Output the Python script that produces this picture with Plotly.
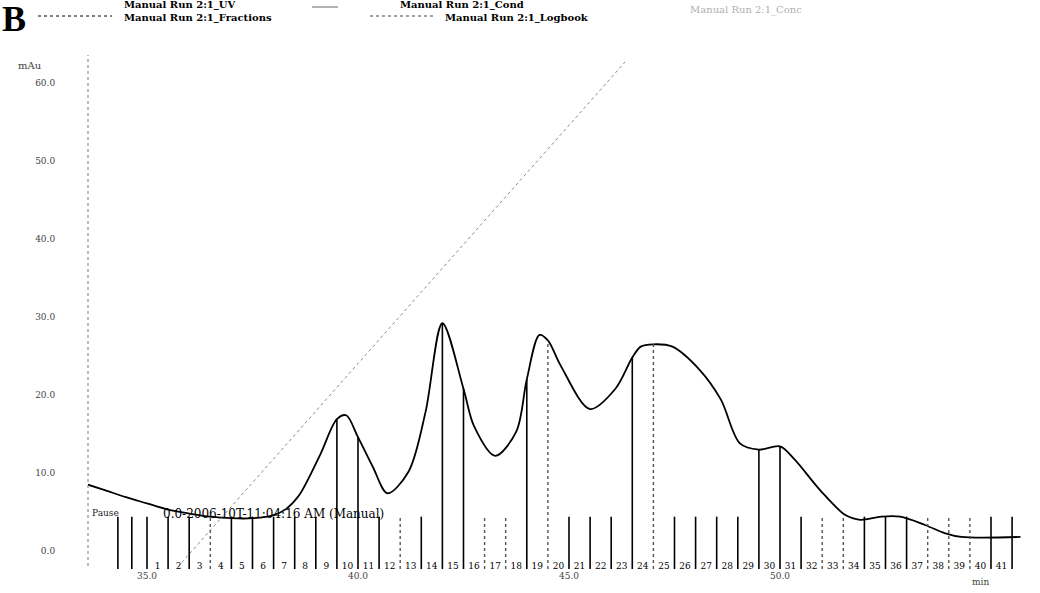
import numpy as np
import plotly.graph_objects as go

# ---------------- data ----------------
uv_time = [33.6, 34.0, 34.5, 35.0, 35.5, 36.0, 36.5, 37.0, 37.5, 38.0, 38.3, 38.6,
           39.1, 39.5, 39.72, 40.0, 40.35, 40.7, 41.2, 41.6, 42.0, 42.5, 42.75, 43.25,
           43.75, 44.0, 44.3, 44.5, 44.8, 45.5, 46.1, 46.5, 46.7, 47.0, 47.45, 48.1,
           48.6, 49.05, 49.5, 50.0, 50.35, 50.95, 51.55, 51.9, 52.4, 52.85, 53.45,
           53.9, 54.3, 55.7]
uv_mau = [8.5, 7.8, 6.9, 6.1, 5.3, 4.8, 4.4, 4.2, 4.2, 4.6, 5.4, 7.1,
          12.3, 16.9, 17.4, 14.6, 10.8, 7.4, 10.2, 17.8, 29.2, 20.8, 16.0, 12.2,
          15.3, 22.0, 27.7, 27.0, 23.8, 18.2, 20.8, 24.8, 26.2, 26.5, 26.2, 23.2,
          19.4, 13.8, 13.0, 13.4, 11.7, 7.8, 4.6, 4.0, 4.4, 4.4, 3.3,
          2.3, 1.8, 1.8]

cond_time = [35.73, 46.33]
cond_value = [-2.05, 62.7]

waste_mark_time = [34.31, 34.64]
frac_start_time = [35.0, 35.5, 36.0, 36.5, 37.0, 37.5, 38.0, 38.5, 39.0, 39.5,
                   40.0, 40.5, 41.0, 41.5, 42.0, 42.5, 43.0, 43.5, 44.0, 44.5,
                   45.0, 45.5, 46.0, 46.5, 47.0, 47.5, 48.0, 48.5, 49.0, 49.5,
                   50.0, 50.5, 51.0, 51.5, 52.0, 52.5, 53.0, 53.5, 54.0, 54.5,
                   55.0, 55.5]
frac_labels = ["1", "2", "3", "4", "5", "6", "7", "8", "9", "10", "11", "12", "13",
               "14", "15", "16", "17", "18", "19", "20", "21", "22", "23", "24",
               "25", "26", "27", "28", "29", "30", "31", "32", "33", "34", "35",
               "36", "37", "38", "39", "40", "41"]
peak_cut_fractions = [10, 11, 15, 16, 19, 20, 24, 25, 30, 31]   # marks drawn up to the UV curve
faint_fractions = [4, 13, 17, 18, 20, 25, 33, 34, 38, 39, 40]

x_ticks = [35, 40, 45, 50]
y_ticks = [0, 10, 20, 30, 40, 50, 60]

legend_names = ["Manual Run 2:1_UV", "Manual Run 2:1_Cond", "Manual Run 2:1_Fractions",
                "Manual Run 2:1_Logbook", "Manual Run 2:1_Conc"]
logbook_pause = "Pause"
logbook_text = "0.0-2006-10T-11:04:16 AM (Manual)"

# ---------------- layout geometry ----------------
W, H = 1040, 593
PLOT_L, PLOT_R, PLOT_T, PLOT_B = 88, 1025, 55, 569
ML, MR, MT, MB = PLOT_L, W - PLOT_R, PLOT_T, H - PLOT_B
X_RANGE = [33.602, 55.806]
Y_RANGE = [-2.31, 63.59]
MARK_TOP = 4.4
SERIF = "DejaVu Serif"


def px(x):
    return (x - PLOT_L) / (PLOT_R - PLOT_L)


def py(y):
    return (PLOT_B - y) / (PLOT_B - PLOT_T)


fig = go.Figure()

# UV trace
fig.add_trace(go.Scatter(x=uv_time, y=uv_mau, mode="lines", name=legend_names[0],
                         line=dict(color="black", width=1.8, shape="spline", smoothing=0.9),
                         showlegend=False, hoverinfo="skip"))
# Conductivity trace
fig.add_trace(go.Scatter(x=cond_time, y=cond_value, mode="lines", name=legend_names[1],
                         line=dict(color="#8a8a8a", width=1, dash="dot"),
                         showlegend=False, hoverinfo="skip", cliponaxis=False))

# Fraction marks
solid_x, solid_y, faint_x, faint_y = [], [], [], []
for t in waste_mark_time:
    solid_x += [t, t, None]
    solid_y += [Y_RANGE[0], MARK_TOP, None]
for i, t in enumerate(frac_start_time):
    k = i + 1
    top = MARK_TOP
    if k in peak_cut_fractions:
        top = max(MARK_TOP, float(np.interp(t, uv_time, uv_mau)))
    if k in faint_fractions:
        faint_x += [t, t, None]
        faint_y += [Y_RANGE[0], top, None]
    else:
        solid_x += [t, t, None]
        solid_y += [Y_RANGE[0], top, None]
fig.add_trace(go.Scatter(x=solid_x, y=solid_y, mode="lines", name=legend_names[2],
                         line=dict(color="black", width=1.6), showlegend=False,
                         hoverinfo="skip"))
fig.add_trace(go.Scatter(x=faint_x, y=faint_y, mode="lines",
                         line=dict(color="#555555", width=1.4, dash="dot"),
                         showlegend=False, hoverinfo="skip"))

# Fraction numbers
lab_x = [(frac_start_time[i] + frac_start_time[i + 1]) / 2 for i in range(len(frac_labels))]
fig.add_trace(go.Scatter(x=lab_x, y=[-2.0] * len(lab_x), mode="text", text=frac_labels,
                         textfont=dict(family=SERIF, size=9, color="black"),
                         showlegend=False, hoverinfo="skip", cliponaxis=False))

# Logbook text
fig.add_annotation(x=33.65, y=4.9, text=logbook_pause, showarrow=False, xanchor="left",
                   yanchor="middle", font=dict(family=SERIF, size=9, color="#222"))
fig.add_annotation(x=35.33, y=4.8, text=logbook_text, showarrow=False, xanchor="left",
                   yanchor="middle", font=dict(family=SERIF, size=12, color="black"))

# Dotted y axis line
fig.add_shape(type="line", xref="paper", yref="paper", x0=0, x1=0, y0=py(566), y1=1,
              line=dict(color="#777", width=1, dash="dot"))

# Axis unit labels
fig.add_annotation(xref="paper", yref="paper", x=px(16), y=py(65), text="mAu",
                   showarrow=False, xanchor="left", yanchor="middle",
                   font=dict(family=SERIF, size=10, color="#444"))
fig.add_annotation(xref="paper", yref="paper", x=px(980), y=py(582), text="min",
                   showarrow=False, xanchor="center", yanchor="middle",
                   font=dict(family=SERIF, size=9, color="#444"))

# Panel letter
fig.add_annotation(xref="paper", yref="paper", x=px(0), y=py(-3), text="<b>B</b>",
                   showarrow=False, xanchor="left", yanchor="top",
                   font=dict(family="Liberation Serif", size=36, color="black"))

# Legend (header)
items = [(legend_names[0], 122, 5, "black"), (legend_names[1], 398, 5, "black"),
         (legend_names[2], 122, 17, "black"), (legend_names[3], 443, 17, "black"),
         (legend_names[4], 688, 10, "#b0b0b0")]
for txt, lx, ly, col in items:
    f = dict(family=SERIF, size=10, color=col, weight="bold" if col == "black" else "normal")
    fig.add_annotation(xref="paper", yref="paper", x=px(lx), y=py(ly), text=txt,
                       showarrow=False, xanchor="left", yanchor="middle", font=f)
for x0, x1, yy, dash, col in [(38, 112, 16, "dot", "black"), (312, 338, 7, "solid", "#666"),
                              (370, 435, 16, "dot", "#444")]:
    fig.add_shape(type="line", xref="paper", yref="paper", x0=px(x0), x1=px(x1),
                  y0=py(yy), y1=py(yy), line=dict(color=col, width=1, dash=dash))

fig.update_layout(
    width=W, height=H, margin=dict(l=ML, r=MR, t=MT, b=MB, autoexpand=False),
    paper_bgcolor="white", plot_bgcolor="white", showlegend=False,
    xaxis=dict(range=X_RANGE, tickvals=x_ticks, tickformat=".1f", showgrid=False,
               zeroline=False, showline=False, ticks="", automargin=False,
               tickfont=dict(family=SERIF, size=9, color="#444")),
    yaxis=dict(range=Y_RANGE, tickvals=y_ticks, tickformat=".1f", showgrid=False,
               zeroline=False, showline=False, ticks="outside", ticklen=30,
               tickcolor="rgba(0,0,0,0)", automargin=False,
               tickfont=dict(family=SERIF, size=9, color="#444")),
)

# the figure fills the window exactly: remove the page's default body margin
fig.write_html("out.html", config={"displayModeBar": False},
               post_script="document.body.style.margin='0px';")
